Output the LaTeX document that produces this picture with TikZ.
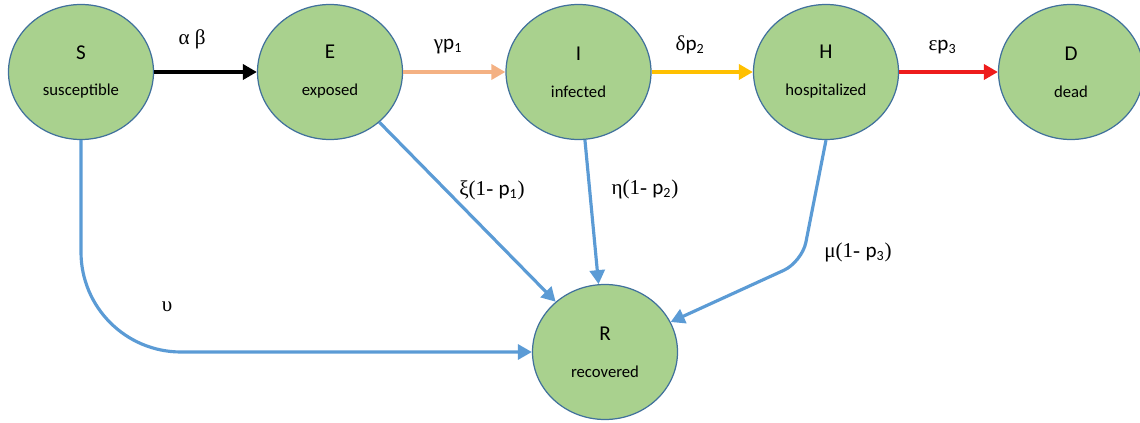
\documentclass[tikz,border=0pt]{standalone}
\usepackage{fontspec}
\setmainfont{Liberation Serif}
\setsansfont{Carlito}
\usetikzlibrary{arrows.meta,shapes.geometric}
\definecolor{fillgr}{HTML}{A9D18E}
\definecolor{rim}{HTML}{41719C}
\definecolor{flowblue}{HTML}{5B9BD5}
\definecolor{peach}{HTML}{F4B183}
\definecolor{gold}{HTML}{FFC000}
\definecolor{redd}{HTML}{EE1C1C}
\newcommand{\lbl}{\fontsize{9.5}{11}\selectfont}
\newcommand{\pp}[1]{{\sffamily p\textsubscript{#1}}}
\begin{document}
\begin{tikzpicture}[line width=2.2pt,
	comp/.style={ellipse,draw=rim,line width=0.7pt,fill=fillgr,minimum width=2.9cm,minimum height=2.7cm,inner sep=0pt,align=center,font=\sffamily\fontsize{12}{14}\selectfont},
	flow/.style={-{Triangle[length=0.28cm,width=0.3cm]}},
	rec/.style={flow,flowblue,line width=1.8pt},
	rate/.style={text=black,font=\rmfamily\fontsize{12}{14}\selectfont}]
	\useasboundingbox (0,0) rectangle (22.8,8.46);
	% compartments
	\node[comp] (S) at (1.62,7.02) {S\\[7pt]\lbl susceptible};
	\node[comp] (E) at (6.6,7.02) {E\\[7pt]\lbl exposed};
	\node[comp] (I) at (11.57,7.02) {I\\[7pt]\lbl infected};
	\node[comp] (H) at (16.52,7.02) {H\\[7pt]\lbl hospitalized};
	\node[comp] (D) at (21.42,7.02) {D\\[7pt]\lbl dead};
	\node[comp] (R) at (12.1,1.42) {R\\[7pt]\lbl recovered};
	% main chain
	\draw[flow,black] (S) -- node[rate,pos=0.37,above=0.3cm]{α β} (E);
	\draw[flow,peach] (E) -- node[rate,pos=0.44,above=0.2cm]{γ\pp{1}} (I);
	\draw[flow,gold] (I) -- node[rate,pos=0.38,above=0.2cm]{δ\pp{2}} (H);
	\draw[flow,redd] (H) -- node[rate,pos=0.44,above=0.2cm]{ε\pp{3}} (D);
	% recovery
	\draw[rec,rounded corners=2cm] (S.south) |- (R.west);
	\draw[rec] (E) -- (R);
	\draw[rec] (I) -- (R);
	\coordinate (hk) at (16.04,3.22);
	\draw[rec,rounded corners=0.4cm] (H.south) -- (hk) -- (R);
	\node[rate] (lu) at (3.34,2.32) {υ};
	\node[rate] (lxi) at (9.84,4.66) {ξ(1- \pp{1})};
	\node[rate] (leta) at (12.9,4.68) {η(1- \pp{2})};
	\node[rate] (lmu) at (17.16,3.42) {μ(1- \pp{3})};
\end{tikzpicture}
\end{document}
